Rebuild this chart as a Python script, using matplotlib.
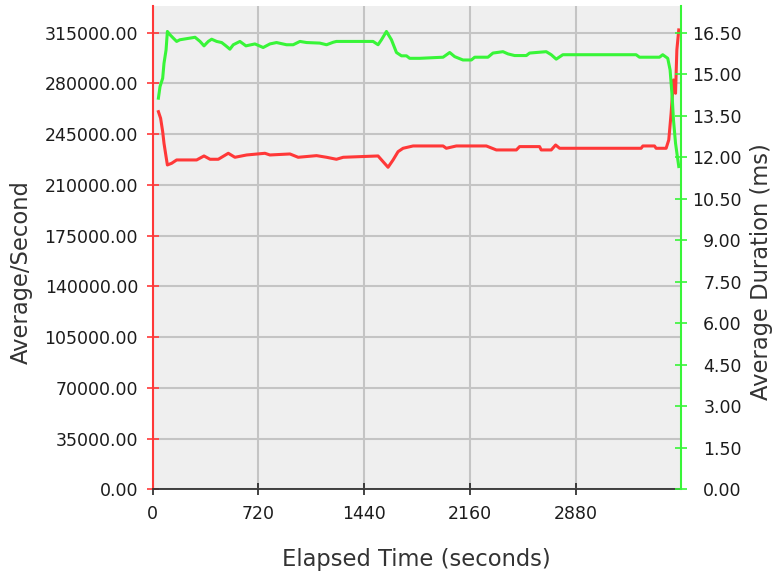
import matplotlib
matplotlib.use("Agg")
import matplotlib.pyplot as plt
from matplotlib.ticker import FormatStrFormatter, MultipleLocator

# red series: Average/Second (left axis)
rate_time = [40, 55, 69, 78, 92, 101, 130, 164, 300, 350, 391, 447, 515, 560, 640,
             764, 798, 934, 990, 1115, 1183, 1250, 1296, 1533, 1567, 1601, 1635,
             1669, 1703, 1771, 1975, 1997, 2065, 2269, 2337, 2473, 2495, 2631,
             2642, 2710, 2740, 2767, 3321, 3333, 3412, 3423, 3491, 3509, 3525,
             3541, 3555, 3564, 3577]
rate_vals = [260500, 255950, 246730, 238700, 229480, 223740, 224900, 227200, 227200,
             229950, 227670, 227670, 231800, 229040, 230630, 231800, 230630, 231330,
             229040, 230170, 229040, 227670, 229040, 229950, 226030, 222150, 227200,
             232920, 235250, 236850, 236850, 235250, 236850, 236850, 234100, 234100,
             236400, 236400, 234100, 234100, 237530, 235250, 235250, 236850, 236850,
             235250, 235250, 241000, 259400, 282400, 273200, 303100, 316900]

# green series: Average Duration (ms) (right axis)
dur_time = [40, 51, 69, 78, 92, 101, 119, 141, 164, 186, 289, 323, 350, 379, 402,
            436, 470, 499, 526, 549, 594, 635, 696, 752, 798, 843, 911, 956, 1002,
            1047, 1137, 1183, 1228, 1250, 1499, 1533, 1556, 1590, 1624, 1658, 1692,
            1726, 1748, 1816, 1975, 2020, 2054, 2110, 2167, 2190, 2280, 2314, 2382,
            2416, 2461, 2541, 2563, 2676, 2710, 2744, 2789, 3287, 3310, 3446, 3468,
            3502, 3518, 3532, 3541, 3555, 3577]
dur_vals = [14.13, 14.55, 14.85, 15.39, 15.87, 16.54, 16.42, 16.30, 16.18, 16.24,
            16.33, 16.18, 16.02, 16.18, 16.26, 16.18, 16.14, 16.02, 15.90, 16.06,
            16.18, 16.02, 16.09, 15.96, 16.09, 16.14, 16.06, 16.06, 16.18, 16.14,
            16.12, 16.06, 16.15, 16.18, 16.18, 16.06, 16.24, 16.54, 16.24, 15.78,
            15.66, 15.66, 15.57, 15.57, 15.61, 15.78, 15.63, 15.51, 15.51, 15.61,
            15.61, 15.76, 15.81, 15.73, 15.67, 15.67, 15.76, 15.81, 15.70, 15.54,
            15.70, 15.70, 15.61, 15.61, 15.70, 15.57, 15.15, 14.19, 13.35, 12.50,
            11.66]

red = "#ff3838"
green = "#38f538"
txt = "#1c1c1c"

fig = plt.figure(figsize=(7.75, 5.77), dpi=100)
ax = fig.add_axes([0.1968, 0.152, 0.6815, 0.8376])
ax.set_facecolor("#efefef")
ax2 = ax.twinx()

ax.plot(rate_time, rate_vals, color=red, lw=2.2, zorder=3)
ax2.plot(dur_time, dur_vals, color=green, lw=2.2, zorder=3)

ax.set_xlim(0, 3590)
ax.set_ylim(0, 333400)
ax2.set_ylim(0, 17.46)

ax.xaxis.set_major_locator(MultipleLocator(720))
ax.yaxis.set_major_locator(MultipleLocator(35000))
ax2.yaxis.set_major_locator(MultipleLocator(1.5))
ax.yaxis.set_major_formatter(FormatStrFormatter("%.2f"))
ax2.yaxis.set_major_formatter(FormatStrFormatter("%.2f"))

ax.grid(True, color="#c4c4c4", lw=1.5)
ax.set_axisbelow(True)

ax.spines["top"].set_visible(False)
ax2.spines["top"].set_visible(False)
ax.spines["left"].set_color(red)
ax.spines["left"].set_linewidth(1.5)
ax.spines["right"].set_visible(False)
ax2.spines["left"].set_visible(False)
ax2.spines["right"].set_color(green)
ax2.spines["right"].set_linewidth(1.5)
ax.spines["bottom"].set_color("#333333")
ax.spines["bottom"].set_linewidth(1.3)
ax2.spines["bottom"].set_visible(False)

ax.tick_params(axis="y", direction="inout", length=8, width=1.2, color=red,
               labelsize=12.5, labelcolor=txt, pad=6.4)
ax.tick_params(axis="x", direction="inout", length=8, width=1.2, color="#222222",
               labelsize=12.5, labelcolor=txt, pad=7.5)
ax2.tick_params(axis="y", direction="inout", length=8, width=1.2, color=green,
                labelsize=12.5, labelcolor=txt, pad=40)
for lab in ax2.get_yticklabels():
    lab.set_ha("right")

ax.set_xlabel("Elapsed Time (seconds)", fontsize=16.3, color="#333333")
ax.set_ylabel("Average/Second", fontsize=16.3, color="#333333")
ax2.set_ylabel("Average Duration (ms)", fontsize=16.3, color="#333333")
ax.xaxis.set_label_coords(0.499, -0.121)
ax.yaxis.set_label_coords(-0.226, 0.45)
ax2.yaxis.set_label_coords(1.131, 0.45)

fig.savefig("out.png", dpi=100)
